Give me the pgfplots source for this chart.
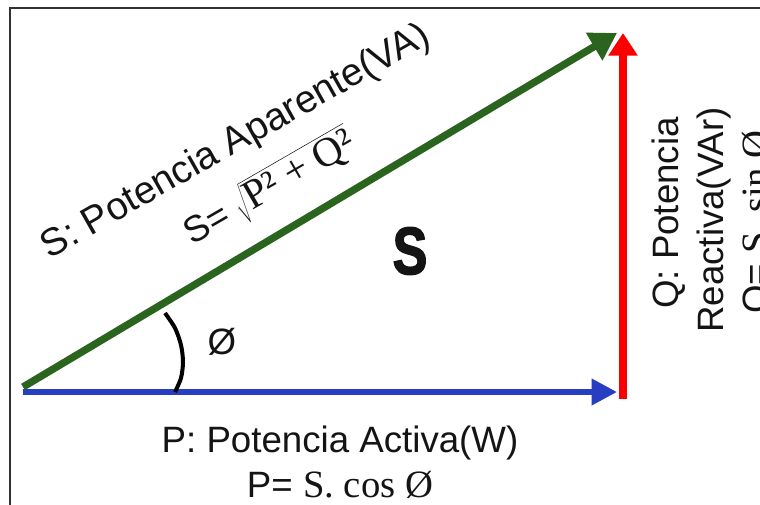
\documentclass[border=0pt]{standalone}
\usepackage{fontspec}
\setmainfont{Liberation Sans}
\newfontfamily\serif{Liberation Serif}
\newfontfamily\heavy[BoldFeatures={FakeBold=2.5}]{Liberation Sans}
\usepackage{pgfplots}
\pgfplotsset{compat=1.18}
\usetikzlibrary{arrows.meta}
\definecolor{pblue}{RGB}{40,62,192}
\definecolor{sgreen}{RGB}{42,100,30}
\definecolor{qred}{RGB}{250,0,0}
\definecolor{frame}{RGB}{50,50,50}
\definecolor{txt}{RGB}{20,20,20}
\newcommand{\lbl}{\fontsize{27.5}{33}\selectfont}
\newcommand{\slbl}{\fontsize{29}{34}\selectfont}
\newcommand{\ser}{\serif\fontsize{29}{34}\selectfont}
\newcommand{\serb}{\serif\fontsize{31}{36}\selectfont}
\begin{document}
\begin{tikzpicture}
\useasboundingbox (0,0) rectangle (570pt,378pt);
\fill[white] (0,0) rectangle (570pt,378pt);
\clip (0,0) rectangle (570pt,378pt);
\begin{axis}[at={(0,0)}, anchor=south west, scale only axis,
  width=570pt, height=378pt, xmin=0, xmax=760, ymin=0, ymax=504,
  y dir=reverse, axis lines=none, clip=false]
% frame
\addplot[frame, line width=1.6pt] coordinates {(10,540) (10,8) (790,8)};
% P (active power)
\addplot[pblue, line width=4.3pt, -{Triangle[length=19pt,width=19pt]}] coordinates {(23,392) (617,392)};
% Q (reactive power)
\addplot[qred, line width=5.5pt, -{Triangle[length=17pt,width=21pt]}] coordinates {(623,399) (623,33)};
% S (apparent power)
\addplot[sgreen, line width=5.5pt, -{Triangle[length=20pt,width=23pt]}] coordinates {(23,387) (617,33)};
% angle arc
\addplot[black, line width=3pt, smooth] coordinates {(165,313) (175,328) (181,345) (183,362) (181,378) (175,392)};
% labels
\node[txt, anchor=base, rotate=29.5, font=\slbl] at (axis cs:241,151) {S: Potencia Aparente(VA)};
\node[txt, anchor=center, rotate=30, font=\lbl] at (axis cs:270,188) {S= $\sqrt{\hbox{\serb P² + Q²}}$};
\node[txt, font=\lbl] at (axis cs:222,342) {Ø};
\node[txt, xscale=0.78, font=\heavy\bfseries\fontsize{50}{56}\selectfont] at (axis cs:410,251) {S};
\node[txt, anchor=base, font=\lbl] at (axis cs:340,452) {P: Potencia Activa(W)};
\node[txt, anchor=base, font=\lbl] at (axis cs:340,497) {P= {\ser S. cos Ø}};
\node[txt, anchor=base, rotate=90, font=\lbl] at (axis cs:678,213) {Q: Potencia};
\node[txt, anchor=base, rotate=90, font=\lbl] at (axis cs:723,220) {Reactiva(VAr)};
\node[txt, anchor=base, rotate=90, font=\lbl] at (axis cs:768,222) {Q= {\ser S. sin Ø}};
\end{axis}
\end{tikzpicture}
\end{document}
